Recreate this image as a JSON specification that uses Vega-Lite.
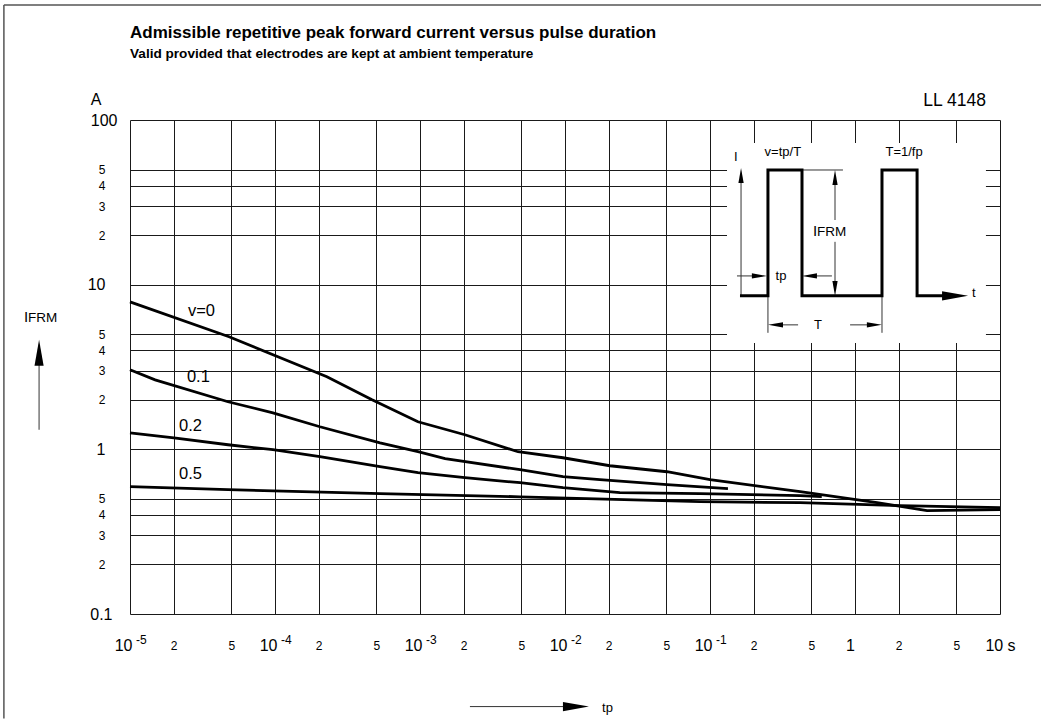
{
  "$schema": "https://vega.github.io/schema/vega-lite/v6.json",
  "width": 870,
  "height": 494,
  "autosize": {"type": "none"},
  "padding": {"left": 130, "top": 120, "right": 41, "bottom": 105},
  "background": "white",
  "config": {
    "view": {"stroke": null},
    "font": "Liberation Sans",
    "text": {"font": "Liberation Sans", "color": "#000"}
  },
  "title": {
    "text": "Admissible repetitive peak forward current versus pulse duration",
    "subtitle": "Valid provided that electrodes are kept at ambient temperature",
    "anchor": "start",
    "frame": "group",
    "font": "Liberation Sans",
    "fontSize": 17,
    "fontWeight": "bold",
    "color": "#000",
    "subtitleFont": "Liberation Sans",
    "subtitleFontSize": 13.6,
    "subtitleFontWeight": "bold",
    "subtitleColor": "#000",
    "subtitlePadding": 5,
    "offset": -57
  },
  "datasets": {
    "curves": [
      {"v": "0", "x": 1e-5, "y": 7.86},
      {"v": "0", "x": 4.82e-5, "y": 4.83},
      {"v": "0", "x": 2.28e-4, "y": 2.76},
      {"v": "0", "x": 4.67e-4, "y": 2.0},
      {"v": "0", "x": 9.68e-4, "y": 1.47},
      {"v": "0", "x": 2.04e-3, "y": 1.226},
      {"v": "0", "x": 4.74e-3, "y": 0.967},
      {"v": "0", "x": 9.68e-3, "y": 0.889},
      {"v": "0", "x": 0.0204, "y": 0.795},
      {"v": "0", "x": 0.0505, "y": 0.731},
      {"v": "0", "x": 0.1, "y": 0.654},
      {"v": "0", "x": 0.418, "y": 0.553},
      {"v": "0", "x": 1.42, "y": 0.474},
      {"v": "0", "x": 3.14, "y": 0.425},
      {"v": "0", "x": 10, "y": 0.43},
      {"v": "0.1", "x": 1e-5, "y": 3.04},
      {"v": "0.1", "x": 1.49e-5, "y": 2.64},
      {"v": "0.1", "x": 4.74e-5, "y": 1.945},
      {"v": "0.1", "x": 9.68e-5, "y": 1.667},
      {"v": "0.1", "x": 2.04e-4, "y": 1.371},
      {"v": "0.1", "x": 5.3e-4, "y": 1.096},
      {"v": "0.1", "x": 9.68e-4, "y": 0.967},
      {"v": "0.1", "x": 1.49e-3, "y": 0.877},
      {"v": "0.1", "x": 4.9e-3, "y": 0.752},
      {"v": "0.1", "x": 9.68e-3, "y": 0.682},
      {"v": "0.1", "x": 0.0174, "y": 0.654},
      {"v": "0.1", "x": 0.0505, "y": 0.61},
      {"v": "0.1", "x": 0.133, "y": 0.577},
      {"v": "0.2", "x": 1e-5, "y": 1.26},
      {"v": "0.2", "x": 2.01e-5, "y": 1.175},
      {"v": "0.2", "x": 4.74e-5, "y": 1.066},
      {"v": "0.2", "x": 9.68e-5, "y": 0.995},
      {"v": "0.2", "x": 2.04e-4, "y": 0.902},
      {"v": "0.2", "x": 5.3e-4, "y": 0.784},
      {"v": "0.2", "x": 9.68e-4, "y": 0.721},
      {"v": "0.2", "x": 2.04e-3, "y": 0.673},
      {"v": "0.2", "x": 4.9e-3, "y": 0.627},
      {"v": "0.2", "x": 9.68e-3, "y": 0.585},
      {"v": "0.2", "x": 0.0239, "y": 0.546},
      {"v": "0.2", "x": 0.0853, "y": 0.538},
      {"v": "0.2", "x": 0.418, "y": 0.523},
      {"v": "0.2", "x": 0.59, "y": 0.516},
      {"v": "0.5", "x": 1e-5, "y": 0.593},
      {"v": "0.5", "x": 4.74e-5, "y": 0.569},
      {"v": "0.5", "x": 5.3e-4, "y": 0.538},
      {"v": "0.5", "x": 4.9e-3, "y": 0.515},
      {"v": "0.5", "x": 0.0853, "y": 0.481},
      {"v": "0.5", "x": 0.418, "y": 0.474},
      {"v": "0.5", "x": 2.04, "y": 0.455},
      {"v": "0.5", "x": 10, "y": 0.442}
    ],
    "curveLabels": [
      {"x": 2.51e-5, "y": 6.93, "label": "v=0"},
      {"x": 2.47e-5, "y": 2.76, "label": "0.1"},
      {"x": 2.18e-5, "y": 1.39, "label": "0.2"},
      {"x": 2.18e-5, "y": 0.711, "label": "0.5"}
    ],
    "inset": [{"x": 0.131, "x2": 8.0, "y": 72.5, "y2": 4.43}],
    "rules": [
      {"x": 0.1637, "x2": 0.1637, "y": 8.55, "y2": 46.0},
      {"x": 0.431, "x2": 0.826, "y": 49.7, "y2": 49.7},
      {"x": 0.728, "x2": 0.728, "y": 44.8, "y2": 24.7},
      {"x": 0.728, "x2": 0.728, "y": 18.2, "y2": 9.49},
      {"x": 0.1535, "x2": 0.219, "y": 11.3, "y2": 11.3},
      {"x": 0.485, "x2": 0.693, "y": 11.3, "y2": 11.3},
      {"x": 0.251, "x2": 0.251, "y": 8.43, "y2": 5.1},
      {"x": 1.535, "x2": 1.535, "y": 8.43, "y2": 5.1},
      {"x": 0.283, "x2": 0.405, "y": 5.7, "y2": 5.7},
      {"x": 0.925, "x2": 1.36, "y": 5.7, "y2": 5.7},
      {"x": 0.00221, "x2": 0.0119, "y": 0.0274, "y2": 0.0274},
      {"x": 2.36e-6, "x2": 2.36e-6, "y": 3.86, "y2": 1.315}
    ],
    "frame": [
      {"x": 1.35e-6, "x2": 19.2, "y": 499, "y2": 499},
      {"x": 1.35e-6, "x2": 1.35e-6, "y": 499, "y2": 0.0232}
    ],
    "pulse": [
      {"i": 0, "x": 0.161, "y": 8.55},
      {"i": 1, "x": 0.251, "y": 8.55},
      {"i": 2, "x": 0.251, "y": 49.7},
      {"i": 3, "x": 0.431, "y": 49.7},
      {"i": 4, "x": 0.431, "y": 8.55},
      {"i": 5, "x": 1.535, "y": 8.55},
      {"i": 6, "x": 1.535, "y": 49.7},
      {"i": 7, "x": 2.68, "y": 49.7},
      {"i": 8, "x": 2.68, "y": 8.55},
      {"i": 9, "x": 4.05, "y": 8.55}
    ],
    "arrows": [
      {"x": 4.9, "y": 8.55, "dir": "right", "kind": "big"},
      {"x": 0.0119, "y": 0.0274, "dir": "right", "kind": "big"},
      {"x": 2.36e-6, "y": 3.86, "dir": "up", "kind": "big"},
      {"x": 0.1637, "y": 46.0, "dir": "up", "kind": "small"},
      {"x": 0.728, "y": 44.8, "dir": "up", "kind": "small"},
      {"x": 0.728, "y": 9.49, "dir": "down", "kind": "small"},
      {"x": 0.219, "y": 11.3, "dir": "right", "kind": "small"},
      {"x": 0.485, "y": 11.3, "dir": "left", "kind": "small"},
      {"x": 0.283, "y": 5.7, "dir": "left", "kind": "small"},
      {"x": 1.36, "y": 5.7, "dir": "right", "kind": "small"}
    ],
    "centerTexts": [
      {"x": 0.318, "y": 63.9, "label": "v=tp/T"},
      {"x": 2.18, "y": 63.9, "label": "T=1/fp"},
      {"x": 0.309, "y": 11.3, "label": "tp"},
      {"x": 0.556, "y": 5.7, "label": "T"}
    ],
    "leftTexts": [
      {"x": 0.1466, "y": 59.6, "label": "I"},
      {"x": 6.41, "y": 8.92, "label": "t"},
      {"x": 0.018, "y": 0.027, "label": "tp"}
    ],
    "ifrm": [
      {"x": 0.513, "y": 19.8, "part": "I"},
      {"x": 0.547, "y": 19.8, "part": "FRM"},
      {"x": 1.86e-6, "y": 5.95, "part": "I"},
      {"x": 1.98e-6, "y": 5.95, "part": "FRM"}
    ],
    "unitLabel": [{"x": 5.83e-6, "y": 132, "label": "A"}],
    "partLabel": [{"x": 8.0, "y": 130.4, "label": "LL 4148"}],
    "exponents": [
      {"x": 1e-5, "y": 0.1, "e": "-5"},
      {"x": 1e-4, "y": 0.1, "e": "-4"},
      {"x": 1e-3, "y": 0.1, "e": "-3"},
      {"x": 0.01, "y": 0.1, "e": "-2"},
      {"x": 0.1, "y": 0.1, "e": "-1"}
    ]
  },
  "encoding": {
    "x": {
      "field": "x", "type": "quantitative",
      "scale": {"type": "log", "domain": [0.00001, 10], "nice": false},
      "axis": {
        "title": null,
        "values": [0.00001, 0.00002, 0.00005, 0.0001, 0.0002, 0.0005, 0.001, 0.002, 0.005, 0.01, 0.02, 0.05, 0.1, 0.2, 0.5, 1, 2, 5, 10],
        "domain": false,
        "ticks": false,
        "grid": true,
        "gridColor": "#1a1a1a",
        "gridWidth": 1,
        "gridOpacity": 1,
        "labelFont": "Liberation Sans",
        "labelColor": "#000",
        "labelBaseline": "middle",
        "labelPadding": 31,
        "labelFlush": false,
        "labelOverlap": false,
        "labelBound": false,
        "labelExpr": "abs(log(datum.value)/LN10 - round(log(datum.value)/LN10)) < 0.001 ? (datum.value > 5 ? '10 s' : (datum.value > 0.5 ? '1' : '10')) : format(datum.value / pow(10, floor(log(datum.value)/LN10 + 0.000001)), '.0f')",
        "labelFontSize": {"condition": {"test": "abs(log(datum.value)/LN10 - round(log(datum.value)/LN10)) < 0.001", "value": 16}, "value": 12},
        "labelAlign": {"condition": {"test": "datum.value < 0.5 && abs(log(datum.value)/LN10 - round(log(datum.value)/LN10)) < 0.001", "value": "right"}, "value": "center"},
        "labelOffset": {"condition": [{"test": "datum.value < 0.5 && abs(log(datum.value)/LN10 - round(log(datum.value)/LN10)) < 0.001", "value": 2}, {"test": "datum.value == 1", "value": -5}], "value": 0}
      }
    },
    "y": {
      "field": "y", "type": "quantitative",
      "scale": {"type": "log", "domain": [0.1, 100], "nice": false},
      "axis": {
        "title": null,
        "values": [0.1, 0.2, 0.3, 0.4, 0.5, 1, 2, 3, 4, 5, 10, 20, 30, 40, 50, 100],
        "domain": false,
        "ticks": false,
        "grid": true,
        "gridColor": "#1a1a1a",
        "gridWidth": 1,
        "gridOpacity": 1,
        "labelFont": "Liberation Sans",
        "labelColor": "#000",
        "labelBaseline": "middle",
        "labelFlush": false,
        "labelOverlap": false,
        "labelBound": false,
        "labelExpr": "datum.value == 0.1 ? '0.1' : datum.value == 1 ? '1' : datum.value == 10 ? '10' : datum.value == 100 ? '100' : format(datum.value / pow(10, floor(log(datum.value)/LN10 + 0.000001)), '.0f')",
        "labelFontSize": {"condition": {"test": "datum.value == 0.1 || datum.value == 1 || datum.value == 10 || datum.value == 100", "value": 16}, "value": 12},
        "labelPadding": {"condition": [{"test": "datum.value == 100", "value": 13}, {"test": "datum.value == 0.1", "value": 18}], "value": 25}
      }
    }
  },
  "layer": [
    {
      "data": {"name": "curves"},
      "mark": {"type": "line", "color": "#000", "strokeWidth": 2.8},
      "encoding": {"detail": {"field": "v"}}
    },
    {
      "data": {"name": "inset"},
      "mark": {"type": "rect", "fill": "white", "stroke": null},
      "encoding": {"x2": {"field": "x2"}, "y2": {"field": "y2"}}
    },
    {
      "data": {"name": "rules"},
      "mark": {"type": "rule", "color": "#333", "strokeWidth": 1},
      "encoding": {"x2": {"field": "x2"}, "y2": {"field": "y2"}}
    },
    {
      "data": {"name": "frame"},
      "mark": {"type": "rule", "color": "#555", "strokeWidth": 1.5},
      "encoding": {"x2": {"field": "x2"}, "y2": {"field": "y2"}}
    },
    {
      "data": {"name": "pulse"},
      "mark": {"type": "line", "color": "#000", "strokeWidth": 3, "strokeJoin": "miter", "strokeCap": "butt"},
      "encoding": {"order": {"field": "i", "type": "quantitative"}}
    },
    {
      "data": {"name": "arrows"},
      "transform": [{"filter": "datum.dir == 'right'"}],
      "mark": {"type": "point", "shape": "M1,0L-1,-0.35L-1,0.35Z", "filled": true, "color": "#000", "opacity": 1, "angle": 0, "strokeWidth": 0},
      "encoding": {"size": {"field": "kind", "type": "ordinal", "scale": {"domain": ["small", "big"], "range": [225, 676]}, "legend": null}}
    },
    {
      "data": {"name": "arrows"},
      "transform": [{"filter": "datum.dir == 'left'"}],
      "mark": {"type": "point", "shape": "M1,0L-1,-0.35L-1,0.35Z", "filled": true, "color": "#000", "opacity": 1, "angle": 180, "strokeWidth": 0},
      "encoding": {"size": {"field": "kind", "type": "ordinal", "scale": {"domain": ["small", "big"], "range": [225, 676]}, "legend": null}}
    },
    {
      "data": {"name": "arrows"},
      "transform": [{"filter": "datum.dir == 'up'"}],
      "mark": {"type": "point", "shape": "M1,0L-1,-0.35L-1,0.35Z", "filled": true, "color": "#000", "opacity": 1, "angle": 270, "strokeWidth": 0},
      "encoding": {"size": {"field": "kind", "type": "ordinal", "scale": {"domain": ["small", "big"], "range": [225, 676]}, "legend": null}}
    },
    {
      "data": {"name": "arrows"},
      "transform": [{"filter": "datum.dir == 'down'"}],
      "mark": {"type": "point", "shape": "M1,0L-1,-0.35L-1,0.35Z", "filled": true, "color": "#000", "opacity": 1, "angle": 90, "strokeWidth": 0},
      "encoding": {"size": {"field": "kind", "type": "ordinal", "scale": {"domain": ["small", "big"], "range": [225, 676]}, "legend": null}}
    },
    {
      "data": {"name": "curveLabels"},
      "mark": {"type": "text", "align": "left", "baseline": "middle", "fontSize": 16.5, "font": "Liberation Sans", "color": "#000"},
      "encoding": {"text": {"field": "label"}}
    },
    {
      "data": {"name": "centerTexts"},
      "mark": {"type": "text", "align": "center", "baseline": "middle", "fontSize": 13, "font": "Liberation Sans", "color": "#000"},
      "encoding": {"text": {"field": "label"}}
    },
    {
      "data": {"name": "leftTexts"},
      "mark": {"type": "text", "align": "left", "baseline": "middle", "fontSize": 13, "font": "Liberation Sans", "color": "#000"},
      "encoding": {"text": {"field": "label"}}
    },
    {
      "data": {"name": "ifrm"},
      "transform": [{"filter": "datum.part == 'I'"}],
      "mark": {"type": "text", "align": "left", "baseline": "alphabetic", "fontSize": 15, "font": "Liberation Sans", "color": "#000"},
      "encoding": {"text": {"field": "part"}}
    },
    {
      "data": {"name": "ifrm"},
      "transform": [{"filter": "datum.part == 'FRM'"}],
      "mark": {"type": "text", "align": "left", "baseline": "alphabetic", "fontSize": 13.5, "font": "Liberation Sans", "color": "#000"},
      "encoding": {"text": {"field": "part"}}
    },
    {
      "data": {"name": "unitLabel"},
      "mark": {"type": "text", "align": "center", "baseline": "middle", "fontSize": 16, "font": "Liberation Sans", "color": "#000"},
      "encoding": {"text": {"field": "label"}}
    },
    {
      "data": {"name": "partLabel"},
      "mark": {"type": "text", "align": "right", "baseline": "middle", "fontSize": 17.5, "font": "Liberation Sans", "color": "#000"},
      "encoding": {"text": {"field": "label"}}
    },
    {
      "data": {"name": "exponents"},
      "mark": {"type": "text", "align": "left", "baseline": "middle", "fontSize": 12, "font": "Liberation Sans", "color": "#000", "dx": 6, "dy": 26},
      "encoding": {"text": {"field": "e"}}
    }
  ]
}
